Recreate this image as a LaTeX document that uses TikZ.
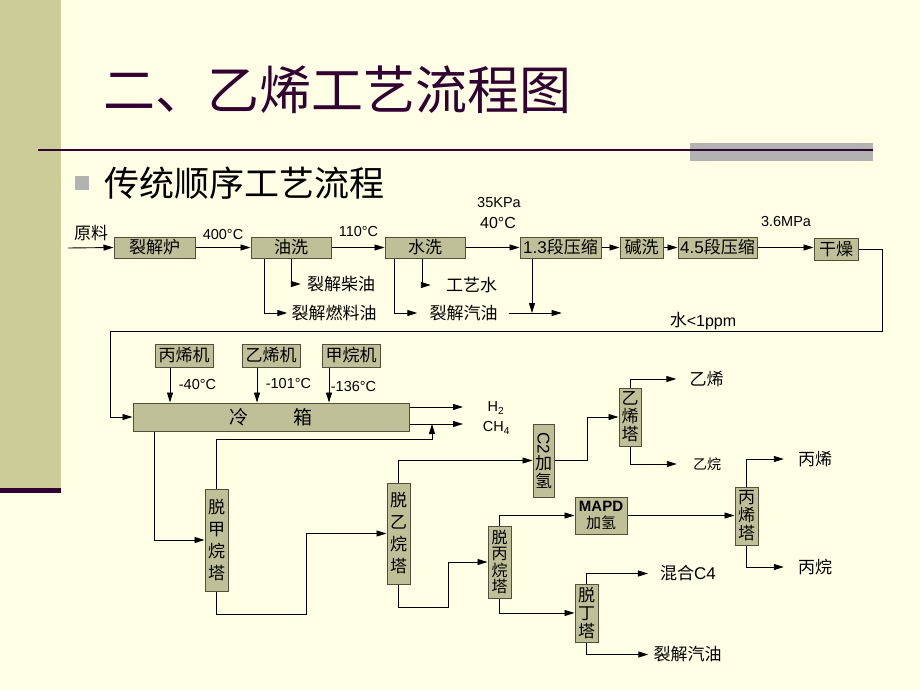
\documentclass[tikz,border=0pt]{standalone}
\usepackage{fontspec}
\usepackage{graphicx}
\setmainfont{Liberation Sans}
\newfontfamily\cjk{Noto Sans CJK SC}
\newfontfamily\latinfont{Liberation Sans}
\usetikzlibrary{arrows.meta}
\definecolor{slidebg}{RGB}{255,255,229}
\definecolor{sidebar}{RGB}{204,204,153}
\definecolor{titlepurple}{RGB}{51,0,51}
\definecolor{unitfill}{RGB}{192,192,152}
\definecolor{unitline}{RGB}{80,80,60}
\definecolor{bargray}{RGB}{178,178,178}
\tikzset{
  unit/.style={draw=unitline, fill=unitfill, line width=1pt, inner sep=1pt,
    minimum height=21pt, font=\cjk\fontsize{17}{19}\selectfont},
  tower/.style={unit, align=center, minimum width=23pt, font=\cjk\fontsize{17}{18}\selectfont},
  flow/.style={line width=0.9pt, -{Triangle[length=10pt,width=6pt]}},
  temp/.style={inner sep=1pt, font=\latinfont\fontsize{14.5}{16}\selectfont},
  product/.style={inner sep=1pt, font=\cjk\fontsize{17}{19}\selectfont}
}

\begin{document}
\begin{tikzpicture}[x=1pt, y=-1pt]
% Slide background
\fill[slidebg] (0,0) rectangle (920,690);
\useasboundingbox (0,0) rectangle (920,690);
\fill[sidebar] (0,0) rectangle (61,488);
\fill[titlepurple] (0,488) rectangle (61,493);
\fill[bargray] (690,143) rectangle (873,161);
\draw[titlepurple, line width=1.5pt] (38,150) -- (873,150);
% Titles
\node[anchor=west, inner sep=0, text=titlepurple, font=\cjk\fontsize{52}{60}\selectfont] (title) at (103,90) {二、乙烯工艺流程图};
\fill[bargray] (75,176) rectangle (89,190);
\node[anchor=west, inner sep=0, font=\cjk\fontsize{35}{40}\selectfont] (subtitle) at (104,183) {传统顺序工艺流程};
% Cracking and compression train
\node[unit, minimum width=81pt] (crack) at (154.5,247.5) {裂解炉};
\node[unit, minimum width=80pt] (oilwash) at (291,247.5) {油洗};
\node[unit, minimum width=80pt] (waterwash) at (425,247.5) {水洗};
\node[unit, minimum width=81pt] (comp13) at (560.5,247.5) {{\latinfont 1.3}段压缩};
\node[unit, minimum width=43pt] (caustic) at (641.5,247.5) {碱洗};
\node[unit, minimum width=79pt] (comp45) at (717.5,247.5) {{\latinfont 4.5}段压缩};
\node[unit, minimum width=44pt, minimum height=22pt] (dryer) at (836,249) {干燥};
% Train labels
\node[product] (feedlabel) at (91,233) {原料};
\node[temp] (t400) at (223,234.5) {400°C};
\node[temp] (t110) at (358.5,232) {110°C};
\node[temp] (p35) at (499,203) {35KPa};
\node[temp, font=\latinfont\fontsize{16}{18}\selectfont] (t40) at (498,223) {40°C};
\node[temp] (p36) at (786,222) {3.6MPa};
\node[product] (drywater) at (703,321) {水{\latinfont\fontsize{16}{19}\selectfont <1ppm}};
% Side streams
\node[product] (diesel) at (341,284) {裂解柴油};
\node[product] (fueloil) at (334,313) {裂解燃料油};
\node[product] (processwater) at (471.5,285) {工艺水};
\node[product] (gasoline) at (463.5,313) {裂解汽油};
% Cold box and refrigeration
\node[unit, minimum width=58pt, minimum height=23pt] (propyl) at (184,355.5) {丙烯机};
\node[unit, minimum width=58pt, minimum height=23pt] (ethyl) at (271,355.5) {乙烯机};
\node[unit, minimum width=58pt, minimum height=23pt] (methyl) at (351,355.5) {甲烷机};
\node[unit, minimum width=276pt, minimum height=28pt, font=\cjk\fontsize{19}{22}\selectfont] (cold) at (271,417) {冷\hspace{45pt}箱};
\node[temp] (tpropyl) at (197.5,384.5) {-40°C};
\node[temp] (tethyl) at (288.5,384) {-101°C};
\node[temp] (tmethyl) at (353.5,387) {-136°C};
\node[temp] (h2) at (496,408) {H\textsubscript{2}};
\node[temp] (ch4) at (496.5,428) {CH\textsubscript{4}};
\coordinate (h2end) at (463,407);
\coordinate (ch4end) at (463,424);
\coordinate (ch4join) at (432,424);
% Columns
\node[tower, minimum height=102pt, font=\cjk\fontsize{17}{22}\selectfont] (demeth) at (216.5,540) {脱\\甲\\烷\\塔};
\node[tower, minimum height=101pt, font=\cjk\fontsize{17}{22}\selectfont] (deeth) at (398.5,533.5) {脱\\乙\\烷\\塔};
\node[tower, minimum width=21pt, minimum height=73pt] (c2hyd) at (543.5,460.5) {\rotatebox{-90}{\latinfont C2}\\加\\氢};
\node[tower, minimum width=22pt, minimum height=58pt] (ethtower) at (630,417) {乙\\烯\\塔};
\node[tower, minimum height=72pt, font=\cjk\fontsize{16}{16.5}\selectfont] (deprop) at (499.5,562) {脱\\丙\\烷\\塔};
\node[unit, minimum width=52pt, minimum height=37pt, align=center, font=\cjk\fontsize{15}{17}\selectfont] (mapd) at (601,515.5) {{\latinfont\bfseries MAPD}\\加氢};
\node[tower, minimum height=58pt] (proptower) at (746.5,516) {丙\\烯\\塔};
\node[tower, minimum height=58pt] (debut) at (586.5,613) {脱\\丁\\塔};
% Products
\node[product] (ethylene) at (706.5,379) {乙烯};
\node[product, font=\cjk\fontsize{14}{16}\selectfont] (ethane) at (707,464) {乙烷};
\node[product] (propylene) at (815,459) {丙烯};
\node[product] (propane) at (815,567) {丙烷};
\node[product] (mixedc4) at (688,573.5) {混合{\latinfont C4}};
\node[product] (crackgas) at (687.5,654.5) {裂解汽油};
% Main train connectors
\coordinate (feed) at (68,248);
\draw[flow] (feed) -- (crack.west);
\draw[flow] (crack.east) -- (oilwash.west);
\draw[flow] (oilwash.east) -- (waterwash.west);
\draw[flow] (waterwash.east) -- (comp13.west);
\draw[flow] (comp13.east) -- (caustic.west);
\draw[flow] (caustic.east) -- (comp45.west);
\draw[flow] (comp45.east) -- (comp45.east -| dryer.west);
\draw[flow] (dryer.east) -- ++(24,0) -- ++(0,82) -| ([xshift=-22pt]cold.west) -- (cold.west);
% Side stream connectors
\draw[flow] (oilwash.south) |- ([xshift=-5pt]diesel.west);
\draw[flow] ([xshift=-27pt]oilwash.south) |- ([xshift=-3pt]fueloil.west);
\draw[flow] ([xshift=-3pt]waterwash.south) |- ([xshift=-14pt]processwater.west);
\draw[flow] ([xshift=-31pt]waterwash.south) |- ([xshift=-11pt]gasoline.west);
\draw[flow] ([xshift=10pt]gasoline.east) -- ++(53,0) coordinate (gasout);
\draw[flow] ([xshift=-28.5pt]comp13.south) -- ([xshift=-28.5pt]comp13.south |- gasout);
% Refrigeration connectors
\draw[flow] ([xshift=-14pt]propyl.south) -- ([xshift=-14pt]propyl.south |- cold.north);
\draw[flow] ([xshift=-14pt]ethyl.south) -- ([xshift=-14pt]ethyl.south |- cold.north);
\draw[flow] ([xshift=-22pt]methyl.south) -- ([xshift=-22pt]methyl.south |- cold.north);
\draw[flow] (cold.east |- h2end) -- (h2end);
\draw[flow] (cold.east |- ch4end) -- (ch4end);
% Separation connectors
\draw[flow] ([xshift=-117pt]cold.south) |- (demeth.west);
\draw[flow] (demeth.north) -- ++(0,-49) -| (ch4join);
\draw[flow] (demeth.south) -- ++(0,23) -| ([xshift=-80pt]deeth.west) -- (deeth.west);
\draw[flow] (deeth.north) |- (c2hyd.west);
\draw[flow] (deeth.south) -- ++(0,23) -| ([xshift=-39pt]deprop.west) -- (deprop.west);
\draw[flow] (c2hyd.east) -- ++(33,0) |- (ethtower.west);
\draw[flow] (ethtower.north) |- ([xshift=-12pt]ethylene.west);
\draw[flow] (ethtower.south) |- ([xshift=-15pt]ethane.west);
\draw[flow] (deprop.north) |- (mapd.west);
\draw[flow] (mapd.east) -- (mapd.east -| proptower.west);
\draw[flow] (proptower.north) |- ([xshift=-13pt]propylene.west);
\draw[flow] (proptower.south) |- ([xshift=-13pt]propane.west);
\draw[flow] (deprop.south) |- (debut.west);
\draw[flow] (debut.north) |- ([xshift=-11pt]mixedc4.west);
\draw[flow] (debut.south) |- ([xshift=-4pt]crackgas.west);
\end{tikzpicture}
\end{document}
